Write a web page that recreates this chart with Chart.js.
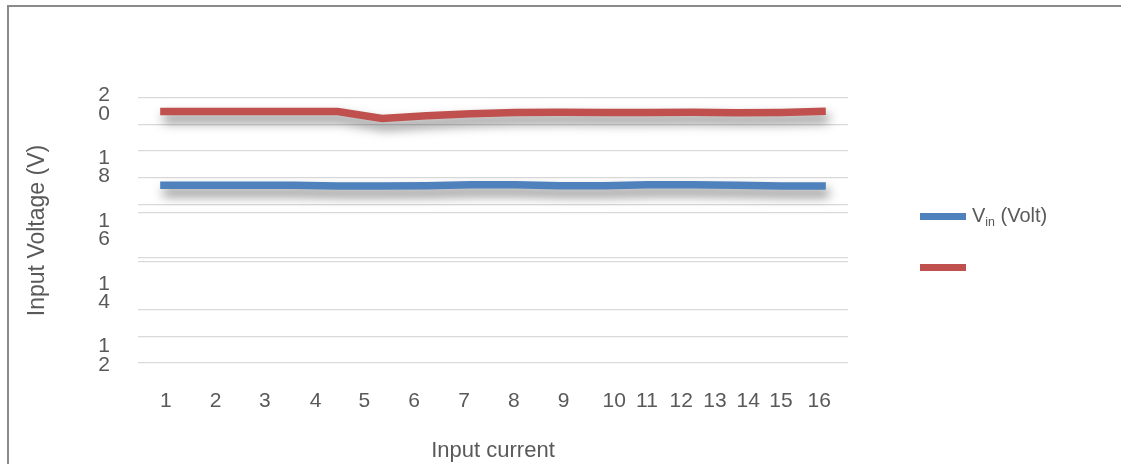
<!DOCTYPE html>
<html>
<head>
<meta charset="utf-8">
<script src="https://cdn.jsdelivr.net/npm/chart.js@4/dist/chart.umd.min.js"></script>
<style>
  html, body { margin: 0; padding: 0; background: #fff; }
  #wrap { position: relative; width: 1121px; height: 464px; overflow: hidden; }
  #frame {
    position: absolute; left: 7px; top: 5px; width: 1200px; height: 600px;
    border-left: 2px solid #8a8a8a; border-top: 2px solid #8a8a8a; pointer-events: none;
  }
  #legend { position: absolute; left: 920px; top: 0; font-family: 'Liberation Sans', Arial, sans-serif; font-size: 20px; color: #595959; }
  #legend .row { position: absolute; left: 0; white-space: nowrap; height: 24px; display: flex; align-items: center; }
  #legend .sw { display: inline-block; width: 46px; height: 7px; margin-right: 6px; }
  #legend sub { font-size: 0.62em; vertical-align: -0.3em; }
</style>
</head>
<body>
<div id="wrap">
  <canvas id="chart" width="1121" height="464"></canvas>
  <div id="frame"></div>
  <div id="legend"></div>
</div>
<script>
const categories = ['1', '2', '3', '4', '5', '6', '7', '8', '9', '10', '11', '12', '13', '14', '15', '16']
const seriesNames = ['Vin (Volt)', '']
const vinVolt = [17.43, 17.43, 17.43, 17.43, 17.41, 17.41, 17.42, 17.45, 17.45, 17.42, 17.42, 17.45, 17.45, 17.43, 17.41, 17.41]
const secondSeries = [19.78, 19.78, 19.78, 19.78, 19.78, 19.56, 19.65, 19.71, 19.75, 19.76, 19.75, 19.75, 19.76, 19.74, 19.75, 19.79]
const seriesColors = ['#4F81BD', '#C0504D']

// y axis: labelled values and the (oddly placed) gridlines of the original
const yLabelValues = [20, 18, 16, 14, 12]
const yGridValues = [20.214, 19.363, 18.534, 17.683, 16.813, 16.567, 15.133, 15.006, 13.466, 12.615, 11.767]
const yMin = 11.767
const yMax = 20.214

// x tick labels sit where the original put them (not under the points)
const xTickAt = [1.13, 2.25, 3.36, 4.5, 5.6, 6.72, 7.85, 8.97, 10.09, 11.23, 11.97, 12.74, 13.5, 14.25, 14.99, 15.85]

const TEXT = '#595959'
const GRID = '#d9d9d9'

const shadowPlugin = {
  id: 'lineShadow',
  beforeDatasetDraw: (chart) => {
    const { ctx } = chart
    ctx.save()
    ctx.shadowColor = 'rgba(0, 0, 0, 0.5)'
    ctx.shadowBlur = 11
    ctx.shadowOffsetX = 3
    ctx.shadowOffsetY = 7
  },
  afterDatasetDraw: (chart) => {
    chart.ctx.restore()
  },
}

const datasets = [vinVolt, secondSeries].map((values, i) => ({
  label: seriesNames[i],
  data: values,
  borderColor: seriesColors[i],
  backgroundColor: seriesColors[i],
  borderWidth: 7.5,
  borderCapStyle: 'butt',
  borderJoinStyle: 'miter',
  pointRadius: 0,
  pointHoverRadius: 0,
  tension: 0,
  fill: false,
  clip: false,
  xAxisID: 'x',
  yAxisID: 'y',
}))

const chart = new Chart(document.getElementById('chart'), {
  type: 'line',
  data: { labels: categories, datasets },
  plugins: [shadowPlugin],
  options: {
    responsive: false,
    animation: false,
    events: [],
    layout: { padding: { top: 98, right: 273, bottom: 0, left: 14 } },
    plugins: { legend: { display: false }, tooltip: { enabled: false } },
    scales: {
      x: {
        type: 'category',
        display: false,
        offset: true,
      },
      xl: {
        type: 'linear',
        position: 'bottom',
        min: 0.5,
        max: 16.5,
        afterBuildTicks: (scale) => {
          scale.ticks = xTickAt.map((v) => ({ value: v }))
        },
        afterFit: (scale) => {
          scale.height = 101
        },
        grid: { display: false, drawTicks: false },
        border: { display: false },
        ticks: {
          autoSkip: false,
          maxRotation: 0,
          padding: 26,
          color: TEXT,
          font: { family: "'Liberation Sans', Arial, sans-serif", size: 21 },
          callback: (value, index) => categories[index],
        },
        title: {
          display: true,
          text: 'Input current',
          color: TEXT,
          font: { family: "'Liberation Sans', Arial, sans-serif", size: 22 },
          padding: { top: 0, bottom: 0 },
        },
      },
      y: {
        type: 'linear',
        min: yMin,
        max: yMax,
        afterBuildTicks: (scale) => {
          scale.ticks = yGridValues.concat(yLabelValues)
            .sort((a, b) => a - b)
            .map((v) => ({ value: v }))
        },
        afterFit: (scale) => {
          scale.width = 138 - 14
        },
        grid: {
          drawTicks: false,
          lineWidth: 1.3,
          color: (ctx) => (ctx.tick && yGridValues.includes(ctx.tick.value) ? GRID : 'rgba(0,0,0,0)'),
        },
        border: { display: false },
        ticks: {
          autoSkip: false,
          padding: 28,
          color: TEXT,
          font: { family: "'Liberation Sans', Arial, sans-serif", size: 21, lineHeight: 0.86 },
          callback: (value) => (yLabelValues.includes(value) ? String(value).split('') : ''),
        },
        title: {
          display: true,
          text: 'Input Voltage (V)',
          color: TEXT,
          font: { family: "'Liberation Sans', Arial, sans-serif", size: 23 },
          padding: { top: 10, bottom: 0 },
        },
      },
    },
  },
})

// legend drawn as html so the subscript stays real text
const legendEl = document.getElementById('legend')
chart.data.datasets.forEach((ds, i) => {
  const row = document.createElement('div')
  row.className = 'row'
  row.style.top = 204.5 + i * 50.5 + 'px'
  const name = ds.label.replace(/^V(in)/, 'V<sub>$1</sub>')
  row.innerHTML = `<span class="sw" style="background:${ds.borderColor}"></span><span>${name}</span>`
  legendEl.appendChild(row)
})
</script>
</body>
</html>
